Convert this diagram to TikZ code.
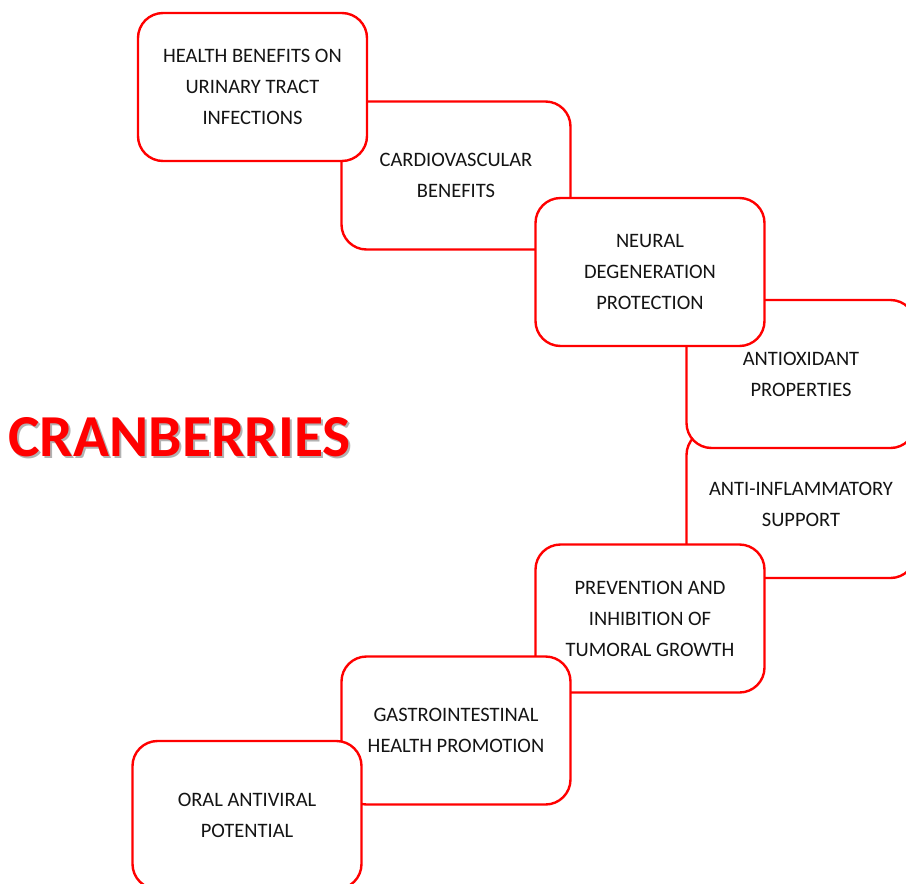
\documentclass[tikz,border=0pt]{standalone}
\usepackage{fontspec}
\setmainfont{Carlito}

\begin{document}
\begin{tikzpicture}[x=1pt,y=-1pt]

\tikzstyle{benefit}=[rectangle,draw=red,fill=white,line width=2.4pt,rounded corners=25pt,minimum width=229pt,minimum height=148pt,align=center,text=black!92,font=\fontsize{20.5}{31}\selectfont]
\tikzstyle{heading}=[font=\fontsize{59.5}{62}\selectfont\bfseries,inner sep=0pt]

\useasboundingbox (0,0) rectangle (906,884);

% boxes, back ones first
\node[benefit] (cardio)  at (456,175.5) {CARDIOVASCULAR\\BENEFITS} ;
\node[benefit] (uti)     at (252.5,87)  {HEALTH BENEFITS ON\\URINARY TRACT\\INFECTIONS} ;
\node[benefit] (inflam)  at (801,504)   {ANTI-INFLAMMATORY\\SUPPORT} ;
\node[benefit] (antiox)  at (801,374)   {ANTIOXIDANT\\PROPERTIES} ;
\node[benefit] (neural)  at (650,272)   {NEURAL\\DEGENERATION\\PROTECTION} ;
\node[benefit] (tumor)   at (650,618.5) {PREVENTION AND\\INHIBITION OF\\TUMORAL GROWTH} ;
\node[benefit] (gastro)  at (456,730.5) {GASTROINTESTINAL\\HEALTH PROMOTION} ;
\node[benefit] (antivir) at (247,815)   {ORAL ANTIVIRAL\\POTENTIAL} ;

% title
\node[heading,text=black!30] (titleshadow) at (181.5,439.5) {CRANBERRIES} ;
\node[heading,text=red]      (title)       at (179.5,437.5) {CRANBERRIES} ;

\end{tikzpicture}
\end{document}
